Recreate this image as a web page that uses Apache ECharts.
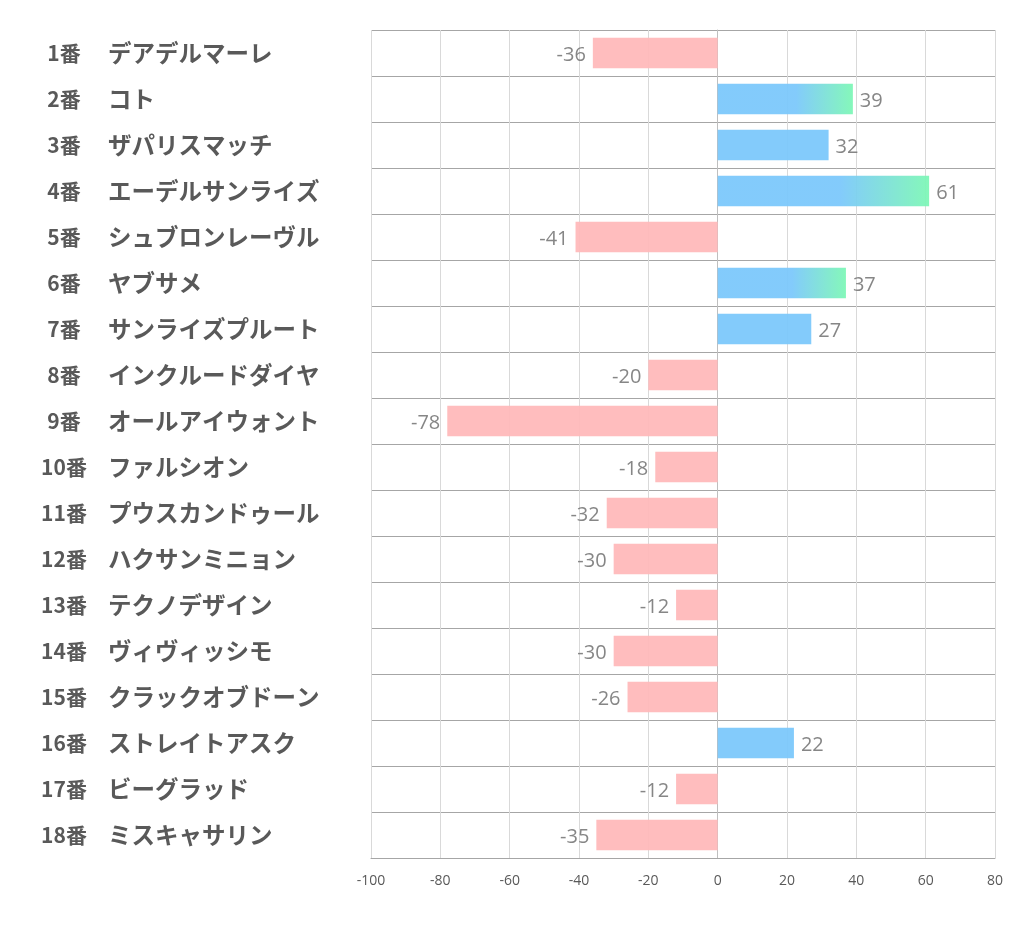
<!DOCTYPE html>
<html>
<head>
<meta charset="utf-8">
<script src="https://cdn.jsdelivr.net/npm/echarts@6/dist/echarts.min.js"></script>
<style>
  html, body { margin: 0; padding: 0; background: #fff; }
  #main { width: 1022px; height: 939px; }
</style>
</head>
<body>
<div id="main"></div>
<script>
// 馬番と馬名
var numbers = ['1番','2番','3番','4番','5番','6番','7番','8番','9番','10番','11番','12番','13番','14番','15番','16番','17番','18番'];
var names = ['デアデルマーレ','コト','ザパリスマッチ','エーデルサンライズ','シュブロンレーヴル','ヤブサメ','サンライズプルート','インクルードダイヤ','オールアイウォント','ファルシオン','プウスカンドゥール','ハクサンミニョン','テクノデザイン','ヴィヴィッシモ','クラックオブドーン','ストレイトアスク','ビーグラッド','ミスキャサリン'];
var values = [-36, 39, 32, 61, -41, 37, 27, -20, -78, -18, -32, -30, -12, -30, -26, 22, -12, -35];
var xTicks = [-100, 80, 20]; // min, max, interval

var blue = '#7cc8fb';
var pink = '#ffb9bb';

var categories = numbers.map(function (n, i) { return n + '|' + names[i]; });

var barData = values.map(function (v) {
  var color;
  if (v < 0) {
    color = pink;
  } else if (v >= 35) {
    // 上位はグラデーション
    color = new echarts.graphic.LinearGradient(0, 0, 1, 0, [
      { offset: 0, color: blue },
      { offset: 0.58, color: blue },
      { offset: 1, color: '#7ef7b6' }
    ]);
  } else {
    color = blue;
  }
  return {
    value: v,
    itemStyle: { color: color, opacity: 0.95 },
    label: { position: v < 0 ? 'left' : 'right' }
  };
});

var chart = echarts.init(document.getElementById('main'));
chart.setOption({
  animation: false,
  grid: { left: 371, right: 27, top: 30, bottom: 81 },
  xAxis: {
    type: 'value',
    min: xTicks[0],
    max: xTicks[1],
    interval: xTicks[2],
    axisLine: { show: true, lineStyle: { color: '#a6a6a6' } },
    axisTick: { show: false },
    axisLabel: { color: '#595959', fontSize: 14, margin: 16, fontFamily: 'Open Sans' },
    splitLine: { show: true, lineStyle: { color: '#d9d9d9' } }
  },
  yAxis: {
    type: 'category',
    inverse: true,
    data: categories,
    axisLine: { show: true, lineStyle: { color: '#bfbfbf' } },
    axisTick: { show: false },
    splitLine: { show: true, lineStyle: { color: '#a6a6a6' } },
    axisLabel: {
      align: 'left',
      margin: 341,
      formatter: function (val) {
        var p = val.split('|');
        return '{n|' + p[0] + '}{m|' + p[1] + '}';
      },
      rich: {
        n: { width: 68, align: 'right', fontSize: 21, fontWeight: 'bold', color: '#595959', fontFamily: 'Noto Sans CJK JP' },
        m: { padding: [0, 0, 0, 10], fontSize: 23.5, fontWeight: 'bold', color: '#595959', fontFamily: 'Noto Sans CJK JP' }
      }
    }
  },
  series: [{
    type: 'bar',
    data: barData,
    barWidth: '66%',
    label: {
      show: true,
      color: '#7f7f7f',
      fontSize: 20,
      distance: 7,
      fontFamily: 'Open Sans',
      offset: [0, 2]
    }
  }]
});
</script>
</body>
</html>
